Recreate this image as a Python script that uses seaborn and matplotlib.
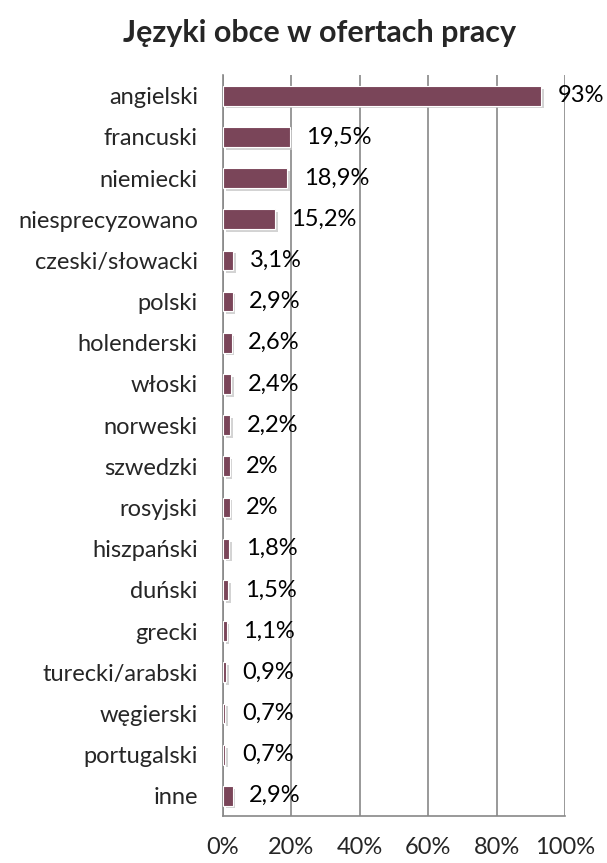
import pandas as pd
import numpy as np
import matplotlib.pyplot as plt
import matplotlib.patheffects as pe
from matplotlib.ticker import PercentFormatter
import seaborn as sns

languages = ['angielski', 'francuski', 'niemiecki', 'niesprecyzowano', 'czeski/słowacki',
             'polski', 'holenderski', 'włoski', 'norweski', 'szwedzki', 'rosyjski',
             'hiszpański', 'duński', 'grecki', 'turecki/arabski', 'węgierski',
             'portugalski', 'inne']
shares = [93, 19.5, 18.9, 15.2, 3.1, 2.9, 2.6, 2.4, 2.2, 2, 2, 1.8, 1.5, 1.1, 0.9, 0.7, 0.7, 2.9]
share_labels = ['93%', '19,5%', '18,9%', '15,2%', '3,1%', '2,9%', '2,6%', '2,4%', '2,2%',
                '2%', '2%', '1,8%', '1,5%', '1,1%', '0,9%', '0,7%', '0,7%', '2,9%']

df = pd.DataFrame({'jezyk': languages, 'udzial': shares})

sns.set_style('white')
plt.rcParams['font.family'] = ['Lato', 'DejaVu Sans']

fig, ax = plt.subplots(figsize=(6.07, 8.63), dpi=100)
fig.subplots_adjust(left=0.367, right=0.931, top=0.913, bottom=0.054)

sns.barplot(x='udzial', y='jezyk', data=df, color='#7A4559', saturation=1,
            width=0.48, edgecolor='white', linewidth=0.8, ax=ax, zorder=3)
for bar in ax.patches:
    bar.set_path_effects([pe.SimplePatchShadow(offset=(2, -2), shadow_rgbFace='#c8c8c8', alpha=0.8),
                          pe.Normal()])

for i, (v, lab) in enumerate(zip(shares, share_labels)):
    ax.annotate(lab, (v, i), xytext=(12, 0), textcoords='offset points',
                va='center', ha='left', fontsize=17, color='black', zorder=5)

ax.set_xlim(0, 100)
ax.set_ylim(len(languages) - 0.5, -0.5)
ax.set_xticks(range(0, 101, 20))
ax.xaxis.set_major_formatter(PercentFormatter(decimals=0))
ax.grid(axis='x', color='#888888', linewidth=1.2, zorder=0)
ax.set_axisbelow(True)
ax.set_xlabel('')
ax.set_ylabel('')

for s in ['top', 'right']:
    ax.spines[s].set_visible(False)
for s in ['left', 'bottom']:
    ax.spines[s].set_color('#888888')
    ax.spines[s].set_linewidth(1.2)

ax.set_yticks(np.arange(len(languages) + 1) - 0.5, minor=True)
ax.tick_params(axis='y', which='major', length=0, labelsize=17, pad=18)
ax.tick_params(axis='y', which='minor', length=6, color='#888888', width=1.2, direction='out')
ax.tick_params(axis='x', which='major', length=6, color='#888888', width=1.2,
               direction='out', labelsize=17, pad=9)

fig.text(0.527, 0.962, 'Języki obce w ofertach pracy', fontsize=22, fontweight='bold',
         ha='center', va='center')

fig.savefig('out.png', dpi=100)
